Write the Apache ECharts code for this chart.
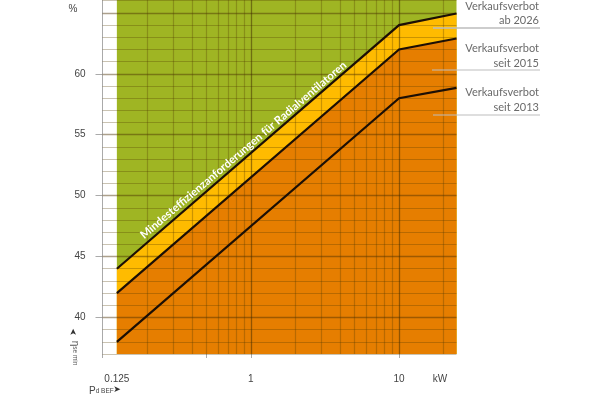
<!DOCTYPE html>
<html><head><meta charset="utf-8">
<style>html,body{margin:0;background:#fff}#c{width:600px;height:400px}</style>
<script src="https://cdn.jsdelivr.net/npm/echarts@6/dist/echarts.min.js"></script></head>
<body><div id="c"></div>
<script>
const powerKW = [0.125, 10, 24.4];
const ban2026 = [44, 64, 64.95];
const ban2015 = [42, 62, 62.9];
const ban2013 = [38, 58, 58.85];
const topEfficiency = [66.06, 66.06, 66.06];
const xTickLabels = [0.125, 1, 10];
const yTickLabels = [40, 45, 50, 55, 60];
const xMinorGrid = [0.2,0.3,0.4,0.5,0.6,0.7,0.8,0.9,2,3,4,5,6,7,8,9,20];
const xMajorGrid = [1,10];
const yMinorGrid = [37,38,39,41,42,43,44,46,47,48,49,51,52,53,54,56,57,58,59,61,62,63,64,66];
const yMajorGrid = [40,45,50,55,60,65];
const seriesNames = ['Verkaufsverbot ab 2026','Verkaufsverbot seit 2015','Verkaufsverbot seit 2013'];
const textGrey = '#6a6a6a', fontUi = 'Lato, "Open Sans", sans-serif', fontAxis = '"Liberation Sans", sans-serif';
const pairs = a => powerKW.map((x,i)=>[x,a[i]]);
const area = (name,a,color)=>({name,type:'line',data:pairs(a),symbol:'none',z:1,silent:true,
  lineStyle:{width:0},areaStyle:{color,opacity:1,origin:'start'}});
const line = (name,a)=>({name,type:'line',data:pairs(a),symbol:'none',z:6,silent:true,
  lineStyle:{color:'#1c0f05',width:2.2,cap:'butt',join:'miter'}});
const guide=(axis,vals,color,width)=>({type:'line',data:[],z:4,silent:true,markLine:{silent:true,symbol:'none',z:4,animation:false,
  label:{show:false},lineStyle:{color,width,type:'solid',opacity:1},data:vals.map(v=>({[axis]:v}))}});
const noteText=(text,y)=>({type:'text',z:20,style:{text,x:539,y,align:'right',verticalAlign:'middle',fill:textGrey,font:'11px '+fontUi}});
const noteRule=(x,y,w)=>({type:'line',z:20,shape:{x1:x,y1:y,x2:540,y2:y},style:{stroke:'#bdbdbd',lineWidth:w}});
const chart=echarts.init(document.getElementById('c'),null,{renderer:'canvas'});
chart.setOption({
  animation:false,
  grid:{left:102.5,top:0,width:354,height:354,containLabel:false},
  xAxis:{type:'log',logBase:10,min:0.1,max:24.4,
    axisLine:{show:false},
    axisTick:{show:true,length:4,customValues:[0.1,0.5,1,10],lineStyle:{color:'#aaa',width:1}},
    axisLabel:{show:true,customValues:xTickLabels,margin:20,color:'#444',fontSize:10,fontFamily:fontAxis,formatter:v=>String(v),
      showMinLabel:true,showMaxLabel:true,hideOverlap:false},
    splitLine:{show:false},minorTick:{show:false},minorSplitLine:{show:false}},
  yAxis:{type:'value',min:37,max:66.06,interval:1,
    axisLine:{show:true,lineStyle:{color:'#aaa',width:1}},
    axisTick:{show:true,length:7,customValues:yTickLabels,lineStyle:{color:'#aaa',width:1}},
    axisLabel:{show:true,customValues:yTickLabels,margin:17,color:'#444',fontSize:10,fontFamily:fontAxis},
    splitLine:{show:false}},
  series:[
    area('Ziel',topEfficiency,'#9fb523'),
    area(seriesNames[0],ban2026,'#ffbb00'),
    area(seriesNames[1],ban2015,'#e67e00'),
    guide('yAxis',yMinorGrid,'rgba(80,55,0,.3)',1.2),
    guide('yAxis',yMajorGrid,'rgba(70,45,0,.45)',1.3),
    guide('xAxis',xMinorGrid,'rgba(80,55,0,.3)',1.2),
    guide('xAxis',xMajorGrid,'rgba(60,40,0,.5)',1.3),
    line(seriesNames[0],ban2026),line(seriesNames[1],ban2015),line(seriesNames[2],ban2013)
  ],
  graphic:[
    {type:'group',z:20,x:210,y:92,children:[
      {type:'circle',shape:{cx:0,cy:0,r:12.5},style:{fill:'none',stroke:'#fff',lineWidth:1.6}},
      {type:'circle',shape:{cx:-4.5,cy:-3.5,r:1.5},style:{fill:'#fff'}},
      {type:'circle',shape:{cx:4.5,cy:-3.5,r:1.5},style:{fill:'#fff'}},
      {type:'arc',shape:{cx:0,cy:0,r:7.5,startAngle:0.35,endAngle:Math.PI-0.35},style:{fill:'none',stroke:'#fff',lineWidth:1.6}}]},
    {type:'text',z:20,x:243.5,y:150,rotation:40.4*Math.PI/180,style:{text:'Mindesteffizienzanforderungen für Radialventilatoren',
      align:'center',verticalAlign:'middle',fill:'#fff',font:'bold 11.2px '+fontUi}},
    noteText('Verkaufsverbot',6),noteText('ab 2026',20),noteRule(433,28,1.5),
    noteText('Verkaufsverbot',48),noteText('seit 2015',63),noteRule(432,70,1),
    noteText('Verkaufsverbot',92),noteText('seit 2013',107),noteRule(433,115,1),
    {type:'text',z:20,style:{text:'%',x:73,y:9,align:'center',verticalAlign:'middle',fill:'#444',font:'10px '+fontAxis}},
    {type:'text',z:20,style:{text:'kW',x:440,y:379,align:'center',verticalAlign:'middle',fill:'#444',font:'10px '+fontAxis}},
    {type:'text',z:20,x:75,y:353,rotation:-Math.PI/2,style:{text:'{a|η}{b|se min}',align:'center',verticalAlign:'middle',
      rich:{a:{fontSize:10,fill:'#555',fontFamily:fontAxis},b:{fontSize:6.5,fill:'#555',fontFamily:fontAxis}}}},
    {type:'text',z:20,x:74,y:332,rotation:Math.PI/2,style:{text:'➤',align:'center',verticalAlign:'middle',fill:'#333',font:'9px "DejaVu Sans"'}},
    {type:'text',z:20,style:{x:89,y:391,text:'{a|P}{b|d BEF}',align:'left',verticalAlign:'middle',
      rich:{a:{fontSize:10,fill:'#444',fontFamily:fontAxis},b:{fontSize:6.5,fill:'#444',fontFamily:fontAxis}}}},
    {type:'text',z:20,style:{text:'➤',x:117,y:390,align:'center',verticalAlign:'middle',fill:'#333',font:'9px "DejaVu Sans"'}}
  ]
});
</script></body></html>
